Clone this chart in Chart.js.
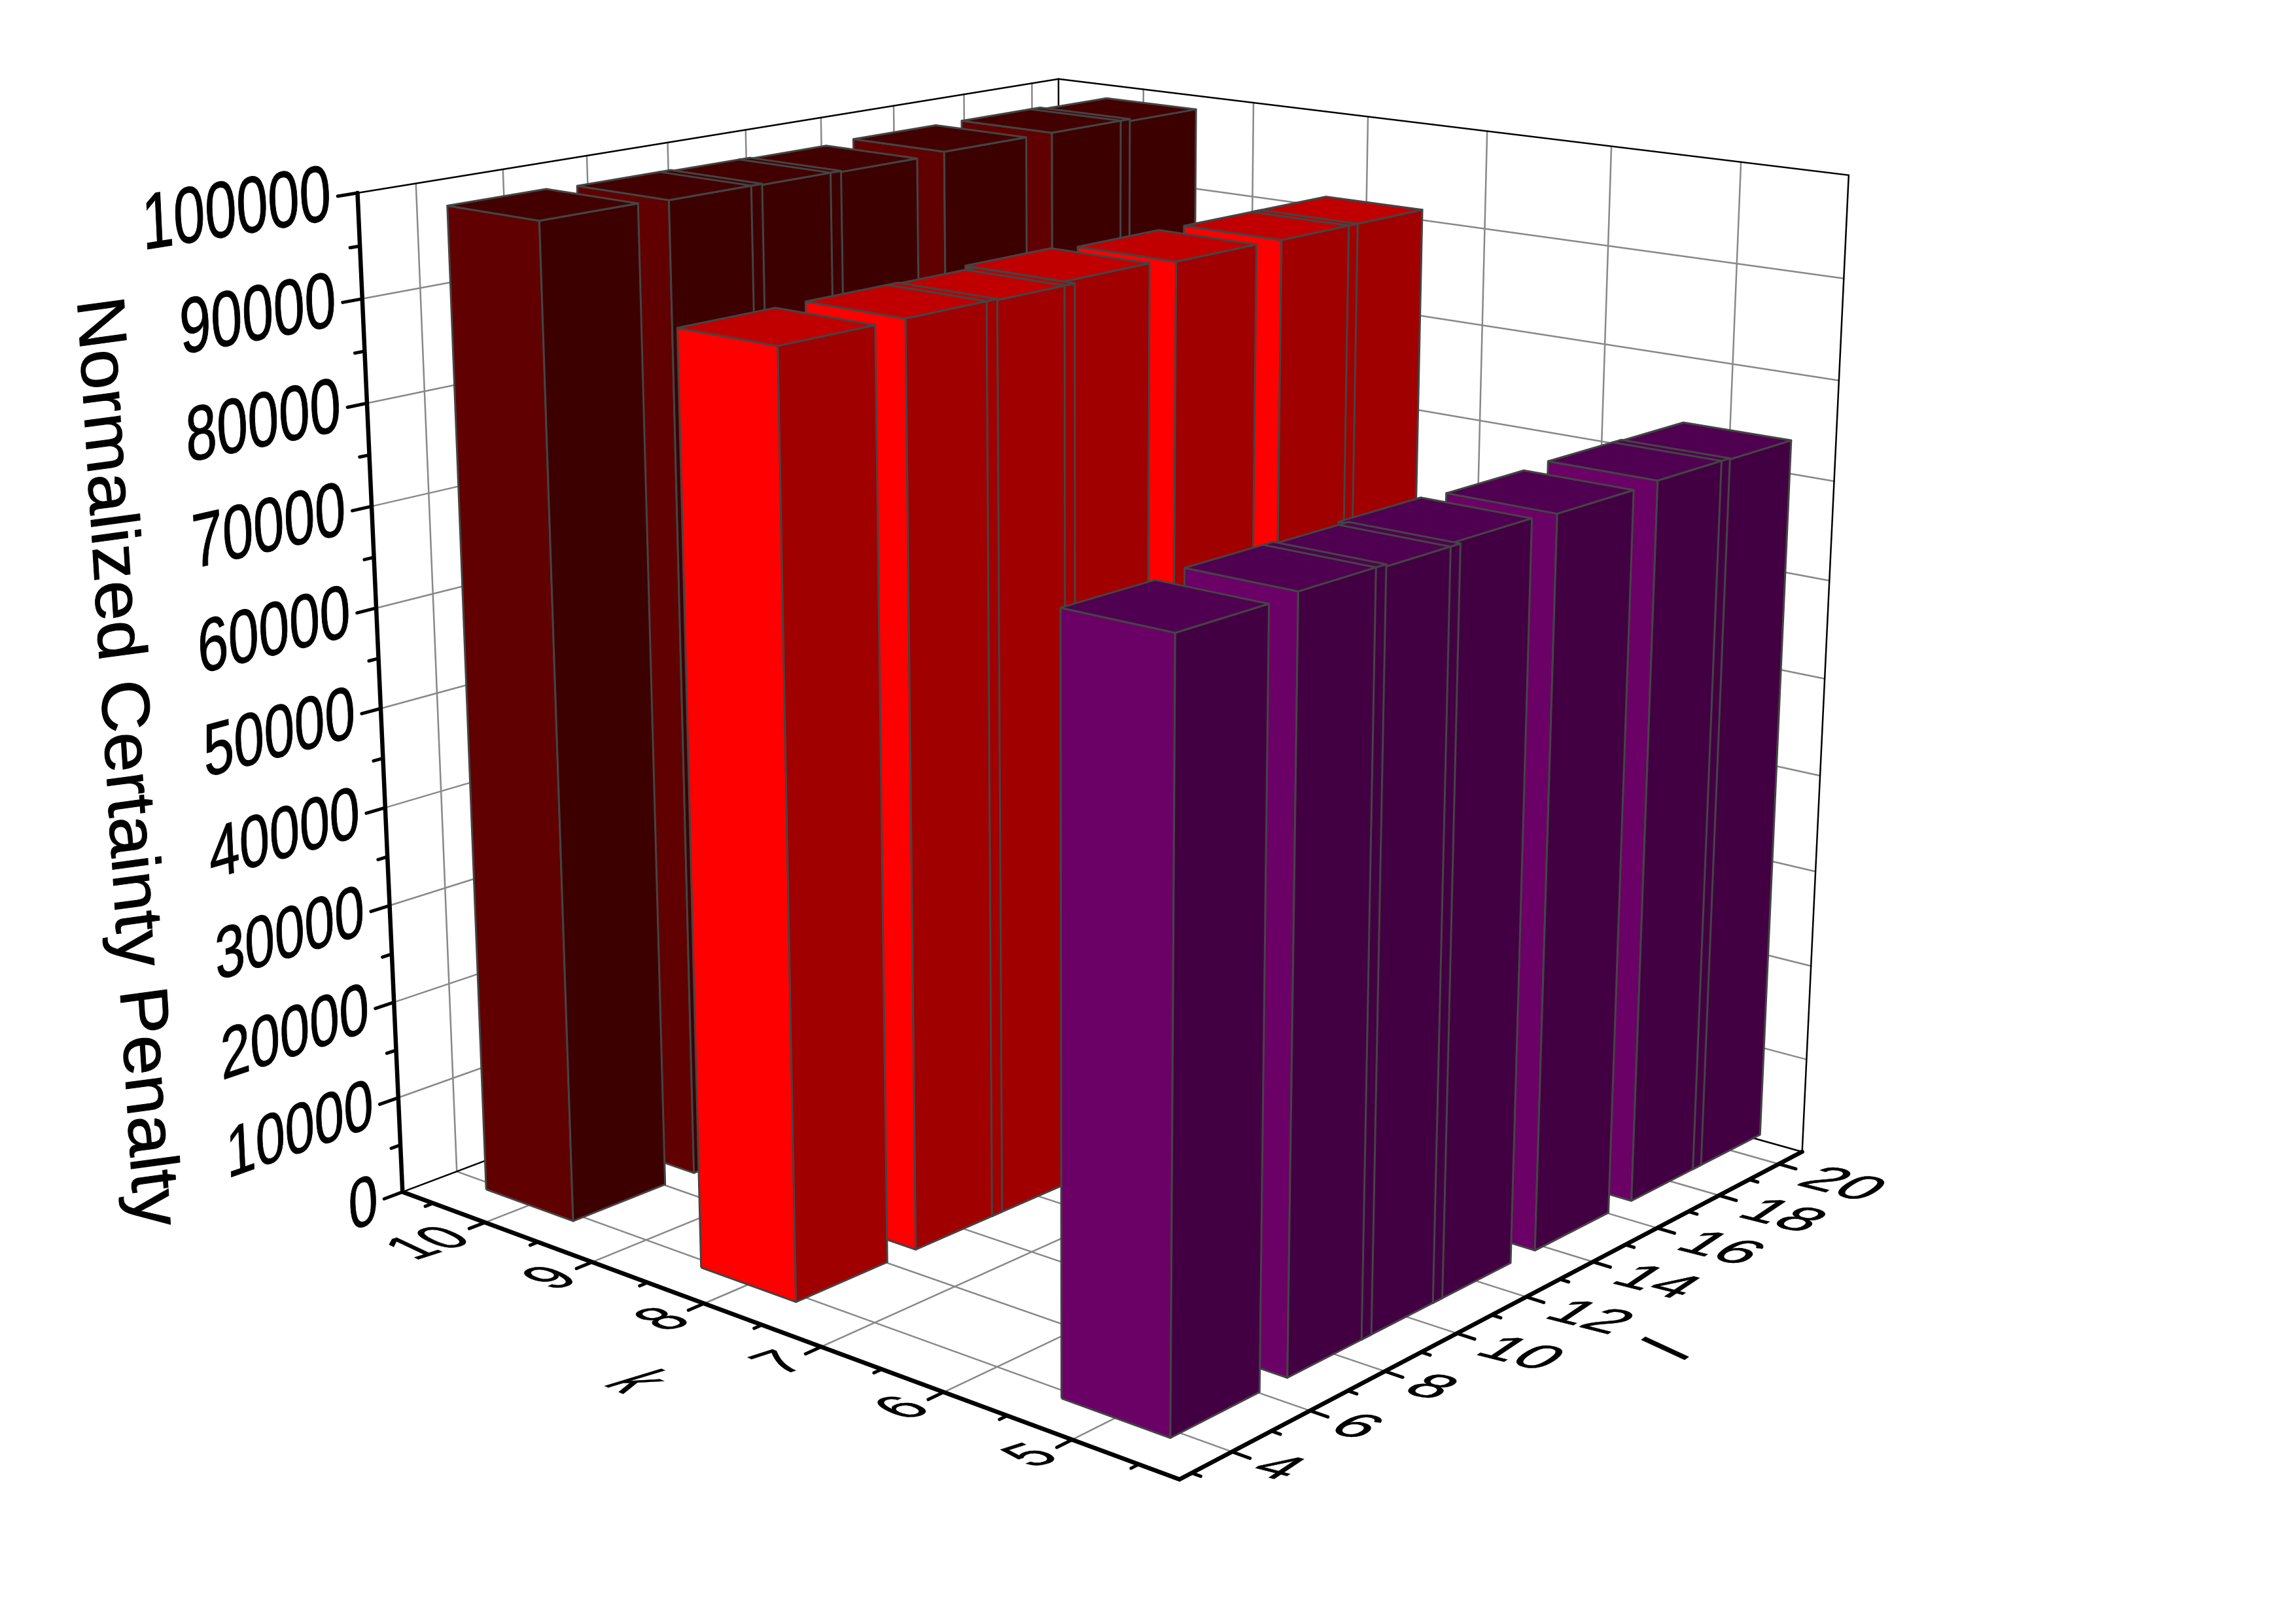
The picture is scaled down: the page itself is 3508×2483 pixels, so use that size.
<!DOCTYPE html>
<html>
<head>
<meta charset="utf-8">
<title>Normalized Certainty Penalty</title>
<script src="https://cdn.jsdelivr.net/npm/chart.js@4"></script>
<style>
  html, body { margin: 0; padding: 0; background: #fff; }
  canvas { display: block; }
</style>
</head>
<body>
<canvas id="chart" width="3508" height="2483"></canvas>
<script>
const kRows = [10, 8, 5];
const lValues = [5, 8, 10, 12, 15, 18, 20];
const penaltyK10 = [98700, 98500, 98400, 98300, 98500, 98500, 98300];
const penaltyK8 = [91000, 91000, 90900, 91300, 90900, 90800, 90800];
const penaltyK5 = [72800, 73100, 72900, 73200, 72900, 73100, 73000];
const kTicks = [10, 9, 8, 7, 6, 5];
const kMinorTicks = [10.5, 9.5, 8.5, 7.5, 6.5, 5.5, 4.5];
const lTicks = [4, 6, 8, 10, 12, 14, 16, 18, 20];
const lMinorTicks = [3, 5, 7, 9, 11, 13, 15, 17, 19];
const yTicks = [0, 10000, 20000, 30000, 40000, 50000, 60000, 70000, 80000, 90000, 100000];
const yMinorTicks = [5000, 15000, 25000, 35000, 45000, 55000, 65000, 75000, 85000, 95000];

const rowColors = [
  { left: "#600000", right: "#3c0000", top: "#420000" },
  { left: "#ff0000", right: "#a00000", top: "#c00000" },
  { left: "#6b0066", right: "#420042", top: "#500050" },
];
const EDGE = "#444444";
const GRID = "#888888";

// axis ranges of the plot box
const K_START = 10.8, K_END = 4.2;
const L_START = 2.7, L_END = 20.8;
const Y_MAX = 100000;
const BAR_K = 0.83;
// bars are wider than the 2 unit steps, so neighbours overlap a little
const BAR_L_LOW = 1.24, BAR_L_HIGH = 1.03;

const kToA = (k) => (K_START - k) / (K_START - K_END);
const lToB = (l) => (l - L_START) / (L_END - L_START);

// where points of the box land on the page, used to fit the camera
const boxCorners = [
  { m: [0, 0, 0], p: [614, 1822] },
  { m: [0, 0, 1], p: [551, 294] },
  { m: [1, 0, 0], p: [1806, 2262] },
  { m: [1, 1, 0], p: [2755, 1760] },
  { m: [1, 1, 1], p: [2826, 268] },
  { m: [0, 1, 1], p: [1618, 121] },
  { m: [0, lToB(4), 1], p: [631, 281] },
  { m: [1, lToB(4), 0], p: [1879, 2222] },
  { m: [1, lToB(20), 0], p: [2719, 1780] },
  { m: [kToA(10), 0, 0], p: [743, 1870] },
  { m: [kToA(5), 0, 0], p: [1639, 2199] },
];

function solve(A, b) {
  const n = b.length;
  for (let i = 0; i < n; i++) {
    let best = i;
    for (let r = i + 1; r < n; r++) {
      if (Math.abs(A[r][i]) > Math.abs(A[best][i])) best = r;
    }
    [A[i], A[best]] = [A[best], A[i]];
    [b[i], b[best]] = [b[best], b[i]];
    for (let r = i + 1; r < n; r++) {
      const f = A[r][i] / A[i][i];
      for (let c = i; c < n; c++) A[r][c] -= f * A[i][c];
      b[r] -= f * b[i];
    }
  }
  const x = new Array(n).fill(0);
  for (let i = n - 1; i >= 0; i--) {
    let s = b[i];
    for (let c = i + 1; c < n; c++) s -= A[i][c] * x[c];
    x[i] = s / A[i][i];
  }
  return x;
}

function fitCamera(corners) {
  const rows = [], rhs = [];
  corners.forEach(({ m, p }) => {
    const [a, b, c] = m;
    const x = p[0] / 1000, y = p[1] / 1000;
    rows.push([a, b, c, 1, 0, 0, 0, 0, -x * a, -x * b, -x * c]);
    rhs.push(x);
    rows.push([0, 0, 0, 0, a, b, c, 1, -y * a, -y * b, -y * c]);
    rhs.push(y);
  });
  const n = 11;
  const AtA = [], Atb = [];
  for (let i = 0; i < n; i++) {
    AtA.push(new Array(n).fill(0));
    Atb.push(0);
    rows.forEach((row, r) => {
      for (let j = 0; j < n; j++) AtA[i][j] += row[i] * row[j];
      Atb[i] += row[i] * rhs[r];
    });
  }
  return solve(AtA, Atb);
}

const cam = fitCamera(boxCorners);

function projectBox(a, b, c) {
  const w = cam[8] * a + cam[9] * b + cam[10] * c + 1;
  return {
    x: (1000 * (cam[0] * a + cam[1] * b + cam[2] * c + cam[3])) / w,
    y: (1000 * (cam[4] * a + cam[5] * b + cam[6] * c + cam[7])) / w,
  };
}

const project = (k, l, v) => projectBox(kToA(k), lToB(l), v / Y_MAX);

const datasets = [];
let drawOrder = 100000;

function addLine(points, color, width) {
  datasets.push({
    data: points,
    showLine: true,
    fill: false,
    borderColor: color,
    borderWidth: width,
    borderCapStyle: "round",
    pointRadius: 0,
    order: drawOrder--,
  });
}

function addFace(points, color) {
  datasets.push({
    data: points.concat([points[0]]),
    showLine: true,
    fill: "shape",
    backgroundColor: color,
    borderColor: EDGE,
    borderWidth: 3,
    borderJoinStyle: "round",
    pointRadius: 0,
    order: drawOrder--,
  });
}

// back walls and floor
yTicks.slice(1, -1).forEach((v) => {
  addLine([projectBox(0, 0, v / Y_MAX), projectBox(0, 1, v / Y_MAX), projectBox(1, 1, v / Y_MAX)], GRID, 2.5);
});
lTicks.forEach((l) => {
  addLine([project(K_END, l, 0), project(K_START, l, 0), project(K_START, l, Y_MAX)], GRID, 2.5);
});
kTicks.forEach((k) => {
  addLine([project(k, L_START, 0), project(k, L_END, 0), project(k, L_END, Y_MAX)], GRID, 2.5);
});
addLine([projectBox(0, 0, 0), projectBox(0, 1, 0), projectBox(1, 1, 0)], "#000000", 2.5);
addLine([projectBox(0, 1, 0), projectBox(0, 1, 1)], "#000000", 2.5);
addLine([projectBox(0, 0, 1), projectBox(0, 1, 1), projectBox(1, 1, 1), projectBox(1, 1, 0)], "#000000", 2.5);

// bars, back row first, far end of each row first
[penaltyK10, penaltyK8, penaltyK5].forEach((values, row) => {
  const k = kRows[row];
  const colors = rowColors[row];
  const k0 = k + BAR_K / 2, k1 = k - BAR_K / 2;
  for (let i = lValues.length - 1; i >= 0; i--) {
    const l0 = lValues[i] - BAR_L_LOW, l1 = lValues[i] + BAR_L_HIGH;
    const v = values[i];
    addFace([project(k0, l0, 0), project(k1, l0, 0), project(k1, l0, v), project(k0, l0, v)], colors.left);
    addFace([project(k1, l0, 0), project(k1, l1, 0), project(k1, l1, v), project(k1, l0, v)], colors.right);
    addFace([project(k0, l0, v), project(k1, l0, v), project(k1, l1, v), project(k0, l1, v)], colors.top);
    // the near edge of an overlapped neighbour still shows through
    if (i < lValues.length - 1 && lValues[i + 1] - BAR_L_LOW < l1) {
      const lNext = lValues[i + 1] - BAR_L_LOW;
      addLine([project(k1, lNext, 0), project(k1, lNext, v), project(k0, lNext, v)], EDGE, 3);
    }
  }
});

// axes and tick marks
const tickB = (px) => px / 1170;
const tickA = (px) => px / 1400;
yTicks.forEach((v) => addLine([projectBox(0, 0, v / Y_MAX), projectBox(0, -tickB(28), v / Y_MAX)], "#000000", 5));
yMinorTicks.forEach((v) => addLine([projectBox(0, 0, v / Y_MAX), projectBox(0, -tickB(14), v / Y_MAX)], "#000000", 5));
kTicks.forEach((k) => addLine([projectBox(kToA(k), 0, 0), projectBox(kToA(k), -tickB(24), 0)], "#000000", 5));
kMinorTicks.forEach((k) => addLine([projectBox(kToA(k), 0, 0), projectBox(kToA(k), -tickB(12), 0)], "#000000", 5));
lTicks.forEach((l) => addLine([projectBox(1, lToB(l), 0), projectBox(1 + tickA(28), lToB(l), 0)], "#000000", 5));
lMinorTicks.forEach((l) => addLine([projectBox(1, lToB(l), 0), projectBox(1 + tickA(14), lToB(l), 0)], "#000000", 5));
addLine([projectBox(0, 0, 1), projectBox(0, 0, 0), projectBox(1, 0, 0), projectBox(1, 1, 0)], "#000000", 6.5);

const FONT_PX = 100;

function skewText(ctx, text, origin, xv, yv, align, baseline) {
  ctx.save();
  ctx.transform(xv.x / FONT_PX, xv.y / FONT_PX, yv.x / FONT_PX, yv.y / FONT_PX, origin.x, origin.y);
  ctx.font = `${FONT_PX}px "Liberation Sans"`;
  ctx.fillStyle = "#000000";
  ctx.strokeStyle = "#000000";
  ctx.lineWidth = 1;
  ctx.textAlign = align;
  ctx.textBaseline = baseline;
  ctx.fillText(text, 0, 0);
  ctx.strokeText(text, 0, 0);
  ctx.restore();
}

const labelsPlugin = {
  id: "boxLabels",
  afterDatasetsDraw(chart) {
    const ctx = chart.ctx;
    const bOff = -0.032, emB = 0.068, emC = 0.074, d = 0.001;

    yTicks.forEach((v) => {
      const c = v / Y_MAX;
      const o = projectBox(0, bOff, c);
      const px = projectBox(0, bOff + d, c);
      const py = projectBox(0, bOff, c + d);
      skewText(ctx, String(v), o,
        { x: ((px.x - o.x) / d) * emB, y: ((px.y - o.y) / d) * emB },
        { x: (-(py.x - o.x) / d) * emC, y: (-(py.y - o.y) / d) * emC },
        "right", "middle");
    });

    kTicks.forEach((k) => {
      const t = project(k, L_START, 0);
      skewText(ctx, String(k), { x: t.x - 37, y: t.y + 18 }, { x: 84, y: -27 }, { x: 80, y: 38 }, "right", "middle");
    });
    lTicks.forEach((l) => {
      const t = project(K_END, l, 0);
      skewText(ctx, String(l), { x: t.x + 42, y: t.y + 19 }, { x: 95, y: 24 }, { x: -66, y: 44 }, "left", "middle");
    });

    skewText(ctx, "Normalized Certainty Penalty", { x: 118, y: 459 }, { x: 6.8, y: 109.7 }, { x: -103, y: 14 }, "left", "alphabetic");
    skewText(ctx, "k", { x: 969, y: 2114 }, { x: 65, y: 28 }, { x: -119, y: 36 }, "center", "middle");
    skewText(ctx, "l", { x: 2553, y: 2065 }, { x: 70, y: -50 }, { x: 91, y: 42 }, "center", "middle");
  },
};

new Chart(document.getElementById("chart").getContext("2d"), {
  type: "scatter",
  data: { datasets },
  options: {
    responsive: false,
    animation: false,
    events: [],
    layout: { padding: 0 },
    plugins: { legend: { display: false }, tooltip: { enabled: false } },
    scales: {
      x: { type: "linear", display: false, min: 0, max: 3508 },
      y: { type: "linear", display: false, min: 0, max: 2483, reverse: true },
    },
  },
  plugins: [labelsPlugin],
});
</script>
</body>
</html>
